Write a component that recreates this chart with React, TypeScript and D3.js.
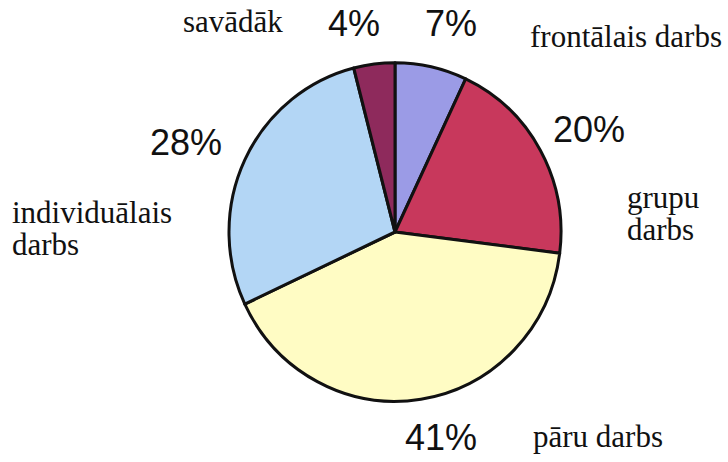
import React from "react";
import * as d3 from "d3";

const categories = ["frontālais darbs", "grupu darbs", "pāru darbs", "individuālais darbs", "savādāk"];
const values = [7, 20, 41, 28, 4];
const colors = ["#9b9be6", "#c8385c", "#fffcc4", "#b3d6f5", "#8e2a5c"];

// label layout (not data)
const pctPos = [
  { x: 425, y: 36 },
  { x: 553, y: 142 },
  { x: 405, y: 450 },
  { x: 150, y: 155 },
  { x: 328, y: 36 },
];
const namePos = [
  { x: 530, y: 47, lines: ["frontālais darbs"] },
  { x: 627, y: 208, lines: ["grupu", "darbs"] },
  { x: 533, y: 447, lines: ["pāru darbs"] },
  { x: 12, y: 223, lines: ["individuālais", "darbs"] },
  { x: 183, y: 32, lines: ["savādāk"] },
];

const W = 728;
const H = 462;
const cx = 395;
const cy = 232;
const R = 166;

export default function App() {
  const pie = d3.pie<number>().sort(null).value((d) => d).startAngle(0).endAngle(2 * Math.PI);
  const arcs = pie(values);
  const arcGen = d3.arc<d3.PieArcDatum<number>>().innerRadius(0).outerRadius(R);
  const total = d3.sum(values);
  return (
    <svg
      width={W}
      height={H}
      style={{ position: "absolute", left: 0, top: 0, background: "#fff" }}
    >
      <g transform={`translate(${cx},${cy}) scale(1,1.02)`}>
        {arcs.map((a, i) => (
          <path
            key={i}
            d={arcGen(a) || ""}
            fill={colors[i]}
            stroke="#111"
            strokeWidth={3}
            strokeLinejoin="round"
          />
        ))}
      </g>
      {values.map((v, i) => (
        <text
          key={"p" + i}
          x={pctPos[i].x}
          y={pctPos[i].y}
          fontFamily="'Liberation Sans', Arial, sans-serif"
          fontSize={36}
          fill="#111"
        >
          {Math.round((v / total) * 100) + "%"}
        </text>
      ))}
      {categories.map((c, i) => (
        <text
          key={"n" + i}
          x={namePos[i].x}
          y={namePos[i].y}
          fontFamily="'Liberation Serif', 'Times New Roman', serif"
          fontSize={31}
          fill="#111"
        >
          {namePos[i].lines.map((l, j) => (
            <tspan key={j} x={namePos[i].x} dy={j === 0 ? 0 : 32}>
              {l}
            </tspan>
          ))}
        </text>
      ))}
    </svg>
  );
}
